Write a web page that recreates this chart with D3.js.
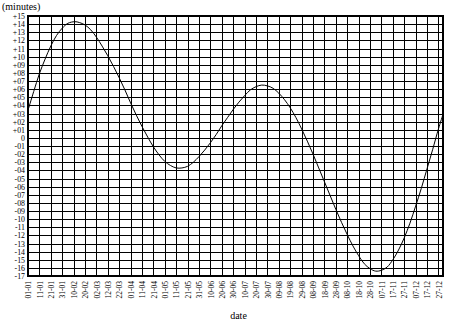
<!DOCTYPE html>
<html>
<head>
<meta charset="utf-8">
<script src="https://cdn.jsdelivr.net/npm/d3@7"></script>
<style>
  html, body { margin: 0; padding: 0; background: #fff; }
  svg { display: block; }
  text { font-family: "Liberation Serif", "DejaVu Serif", serif; fill: #000; }
</style>
</head>
<body>
<svg id="chart" width="459" height="326"></svg>
<script>
// ---- data ----
const year = "2021";
const dates = ["01-01","06-01","11-01","16-01","21-01","26-01","31-01","05-02","11-02","15-02","20-02","25-02",
  "02-03","07-03","12-03","17-03","22-03","27-03","01-04","06-04","11-04","16-04","21-04","26-04",
  "01-05","06-05","11-05","16-05","21-05","26-05","31-05","05-06","10-06","15-06","20-06","25-06","30-06",
  "05-07","10-07","15-07","20-07","25-07","30-07","04-08","09-08","14-08","19-08","24-08","29-08",
  "03-09","08-09","13-09","18-09","23-09","28-09","03-10","08-10","13-10","18-10","23-10","28-10",
  "02-11","07-11","12-11","17-11","22-11","27-11","02-12","07-12","12-12","17-12","22-12","27-12","31-12"];
const values = [3.4,5.7,7.9,9.7,11.3,12.6,13.5,14.1,14.3,14.2,13.9,13.3,
  12.4,11.3,10.1,8.8,7.4,5.9,4.3,2.8,1.4,0.1,-1.1,-2.1,
  -2.9,-3.4,-3.7,-3.7,-3.5,-3.0,-2.3,-1.5,-0.6,0.4,1.5,2.5,3.5,
  4.4,5.2,5.9,6.3,6.5,6.4,6.1,5.5,4.7,3.7,2.5,1.1,
  -0.4,-2.0,-3.7,-5.4,-7.1,-8.8,-10.4,-11.9,-13.3,-14.5,-15.5,-16.1,
  -16.4,-16.3,-15.9,-15.0,-13.8,-12.3,-10.5,-8.4,-6.2,-3.8,-1.4,1.1,2.9];
const xTickLabels = ["01-01","11-01","21-01","31-01","10-02","20-02","02-03","12-03","22-03","01-04","11-04","21-04",
  "01-05","11-05","21-05","31-05","10-06","20-06","30-06","10-07","20-07","30-07","09-08","19-08","29-08",
  "08-09","18-09","28-09","08-10","18-10","28-10","07-11","17-11","27-11","07-12","17-12","27-12"];
const yTicks = [15,14,13,12,11,10,9,8,7,6,5,4,3,2,1,0,-1,-2,-3,-4,-5,-6,-7,-8,-9,-10,-11,-12,-13,-14,-15,-16,-17];
const yTickLabels = ["+15","+14","+13","+12","+11","+10","+09","+08","+07","+06","+05","+04","+03","+02","+01","0",
  "-01","-02","-03","-04","-05","-06","-07","-08","-09","-10","-11","-12","-13","-14","-15","-16","-17"];
const yTitle = "(minutes)";
const xTitle = "date";

// ---- chart ----
const parse = d3.timeParse("%d-%m-%Y");
const margin = {left: 28, right: 16, top: 16, bottom: 50};
const W = 459, H = 326;
const iw = W - margin.left - margin.right, ih = H - margin.top - margin.bottom;
const svg = d3.select("#chart");
const g = svg.append("g").attr("transform", `translate(${margin.left},${margin.top})`);

const x = d3.scaleTime()
  .domain([parse("01-01-" + year), parse("31-12-" + year)])
  .range([0, iw]);
const y = d3.scaleLinear().domain([-17, 15]).range([ih, 0]);

const xTickDates = xTickLabels.map(s => parse(s + "-" + year));

// y grid + labels
const yAxis = g.append("g")
  .call(d3.axisLeft(y).tickValues(yTicks)
    .tickFormat((d, i) => yTickLabels[yTicks.indexOf(d)])
    .tickSize(-iw).tickPadding(3));
yAxis.select(".domain").remove();
yAxis.selectAll(".tick line").attr("stroke", "#000").attr("shape-rendering", "crispEdges");
yAxis.selectAll(".tick text").attr("font-size", 7.8).attr("font-family", "Liberation Serif");

// x grid + labels
const xAxis = g.append("g").attr("transform", `translate(0,${ih})`)
  .call(d3.axisBottom(x).tickValues(xTickDates)
    .tickFormat((d, i) => xTickLabels[i])
    .tickSize(-ih).tickPadding(3));
xAxis.select(".domain").remove();
xAxis.selectAll(".tick line").attr("stroke", "#000").attr("shape-rendering", "crispEdges");
xAxis.selectAll(".tick text")
  .attr("font-size", 7.5).attr("font-family", "Liberation Serif")
  .attr("text-anchor", "end")
  .attr("transform", "rotate(-90)")
  .attr("x", -5).attr("y", 0).attr("dy", "0.35em");

// frame
g.append("rect").attr("x", 0).attr("y", 0).attr("width", iw).attr("height", ih)
  .attr("fill", "none").attr("stroke", "#000").attr("stroke-width", 2)
  .attr("shape-rendering", "crispEdges");

// curve
const pts = dates.map((d, i) => ({date: parse(d + "-" + year), v: values[i]}));
g.append("path").datum(pts)
  .attr("fill", "none").attr("stroke", "#000").attr("stroke-width", 1)
  .attr("d", d3.line().x(d => x(d.date)).y(d => y(d.v)).curve(d3.curveCatmullRom));

// titles
svg.append("text").attr("x", 2).attr("y", 10).attr("font-size", 10).text(yTitle);
svg.append("text").attr("x", margin.left + iw / 2 + 3).attr("y", 319)
  .attr("text-anchor", "middle").attr("font-size", 10).text(xTitle);
</script>
</body>
</html>
